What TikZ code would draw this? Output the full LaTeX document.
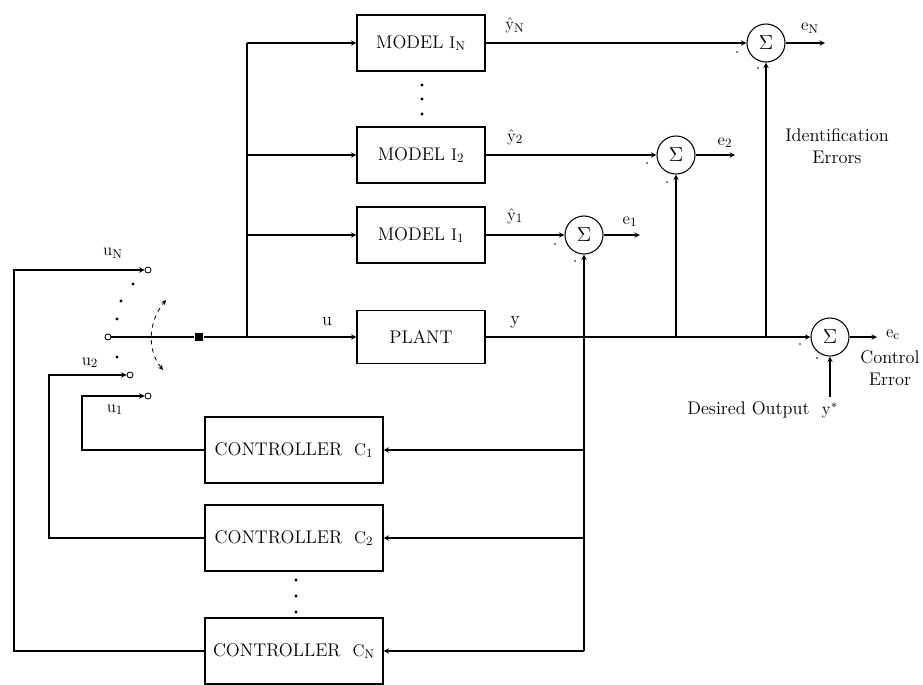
\documentclass[tikz,border=0pt]{standalone}
\usepackage{amsmath}
\usetikzlibrary{arrows,positioning}

\begin{document}
\begin{tikzpicture}[>=stealth, x=0.025cm, y=-0.025cm, line width=0.75pt,
    every node/.style={font=\fontsize{13}{15.5}\selectfont},
    block/.style={draw, minimum width=3.2cm, minimum height=1.4cm},
    ctrlblock/.style={draw, minimum width=4.45cm, minimum height=1.65cm},
    sumnode/.style={draw, circle, minimum size=0.95cm, inner sep=0pt, font=\fontsize{15}{18}\selectfont},
    term/.style={draw, circle, minimum size=0.15cm, inner sep=0pt, line width=0.6pt}]
    \useasboundingbox (0,0) rectangle (923,685);
    % models and plant
    \node[block] (mN) at (421,43) {MODEL $\mathrm{I}_{\mathrm{N}}$};
    \node[block] (m2) at (421,155) {MODEL $\mathrm{I}_{\mathrm{2}}$};
    \node[block] (m1) at (421,235) {MODEL $\mathrm{I}_{\mathrm{1}}$};
    \node[block, minimum height=1.33cm] (plant) at (421,337) {PLANT};
    % controllers
    \node[ctrlblock] (c1) at (294,450) {CONTROLLER\ \ $\mathrm{C}_{\mathrm{1}}$};
    \node[ctrlblock] (c2) at (294,538) {CONTROLLER\ \ $\mathrm{C}_{\mathrm{2}}$};
    \node[ctrlblock] (cN) at (294,651) {CONTROLLER\ \ $\mathrm{C}_{\mathrm{N}}$};
    % summing junctions
    \node[sumnode] (sN) at (766,43) {$\Sigma$};
    \node[sumnode] (s2) at (676,155) {$\Sigma$};
    \node[sumnode] (s1) at (584,235) {$\Sigma$};
    \node[sumnode] (sc) at (830,337) {$\Sigma$};
    % switch terminals
    \node[term] (uN) at (148,270) {};
    \node[term] (u2) at (130,375) {};
    \node[term] (u1) at (148,396) {};
    \node[term] (pole) at (108,337) {};
    \node[fill, minimum size=0.2cm, inner sep=0pt] (sq) at (199,337) {};
    \coordinate (bus) at (247,337);
    \coordinate (eN) at (825,43);
    \coordinate (e2) at (735,155);
    \coordinate (e1) at (640,235);
    \coordinate (ec) at (877,337);
    \node (ystar) at (830,410) {$\mathrm{y}^{*}$};
    \node[left=0.05cm of ystar] (desired) {Desired Output};
    % main path u -> plant -> control error
    \draw (pole) -- (sq) -- (bus);
    \draw[->] (bus) -- (plant.west);
    \draw[->] (plant.east) -- (sc.west);
    \draw (bus) -- (bus |- mN);
    \draw[->] (bus |- mN) -- (mN.west);
    \draw[->] (bus |- m2) -- (m2.west);
    \draw[->] (bus |- m1) -- (m1.west);
    % model outputs
    \draw[->] (mN.east) -- (sN.west);
    \draw[->] (m2.east) -- (s2.west);
    \draw[->] (m1.east) -- (s1.west);
    \draw[->] (sN.east) -- (eN);
    \draw[->] (s2.east) -- (e2);
    \draw[->] (s1.east) -- (e1);
    \draw[->] (sc.east) -- (ec);
    \draw[->] (ystar.north) -- (sc.south);
    % plant output fed back
    \draw[->] (sN |- plant) -- (sN.south);
    \draw[->] (s2 |- plant) -- (s2.south);
    \draw[->] (s1 |- cN) -- (s1.south);
    \draw[->] (s1 |- c1) -- (c1.east);
    \draw[->] (s1 |- c2) -- (c2.east);
    \draw[->] (s1 |- cN) -- (cN.east);
    % controller outputs back to the switch
    \draw[->] (c1.west) -| (82,396) -- (u1);
    \draw[->] (c2.west) -| (49,375) -- (u2);
    \draw[->] (cN.west) -| (14,270) -- (uN);
    % switch arrow and dots
    \draw[<->, dashed, line width=0.6pt] (163,370) .. controls (147,350) and (148,322) .. (166,300);
    \foreach \p in {(133,284),(121,301),(117,319),(117,357),(422,85),(422,99),(422,114),(296,580),(296,596),(296,612)}
      \fill \p circle (1.1pt);
    % signs at the junctions
    \foreach \p in {(737,52),(758,68),(647,163),(667,182),(555,244),(575,261),(800,344),(817,358)}
      \fill \p circle (0.6pt);
    % labels
    \node (lyN) at (515,25) {$\hat{\mathrm{y}}_{\mathrm{N}}$};
    \node (ly2) at (515,137) {$\hat{\mathrm{y}}_{\mathrm{2}}$};
    \node (ly1) at (515,216) {$\hat{\mathrm{y}}_{\mathrm{1}}$};
    \node (lu) at (327,322) {u};
    \node (ly) at (515,322) {y};
    \node (leN) at (810,28) {$\mathrm{e}_{\mathrm{N}}$};
    \node (le2) at (725,143) {$\mathrm{e}_{\mathrm{2}}$};
    \node (le1) at (630,222) {$\mathrm{e}_{\mathrm{1}}$};
    \node (lec) at (893,335) {$\mathrm{e}_{\mathrm{c}}$};
    \node[align=center] (lid) at (837,146) {Identification\\Errors};
    \node[align=center] (lce) at (890,368) {Control\\Error};
    \node (luN) at (113,253) {$\mathrm{u}_{\mathrm{N}}$};
    \node (lu2) at (90,363) {$\mathrm{u}_{\mathrm{2}}$};
    \node (lu1) at (115,410) {$\mathrm{u}_{\mathrm{1}}$};
\end{tikzpicture}
\end{document}
